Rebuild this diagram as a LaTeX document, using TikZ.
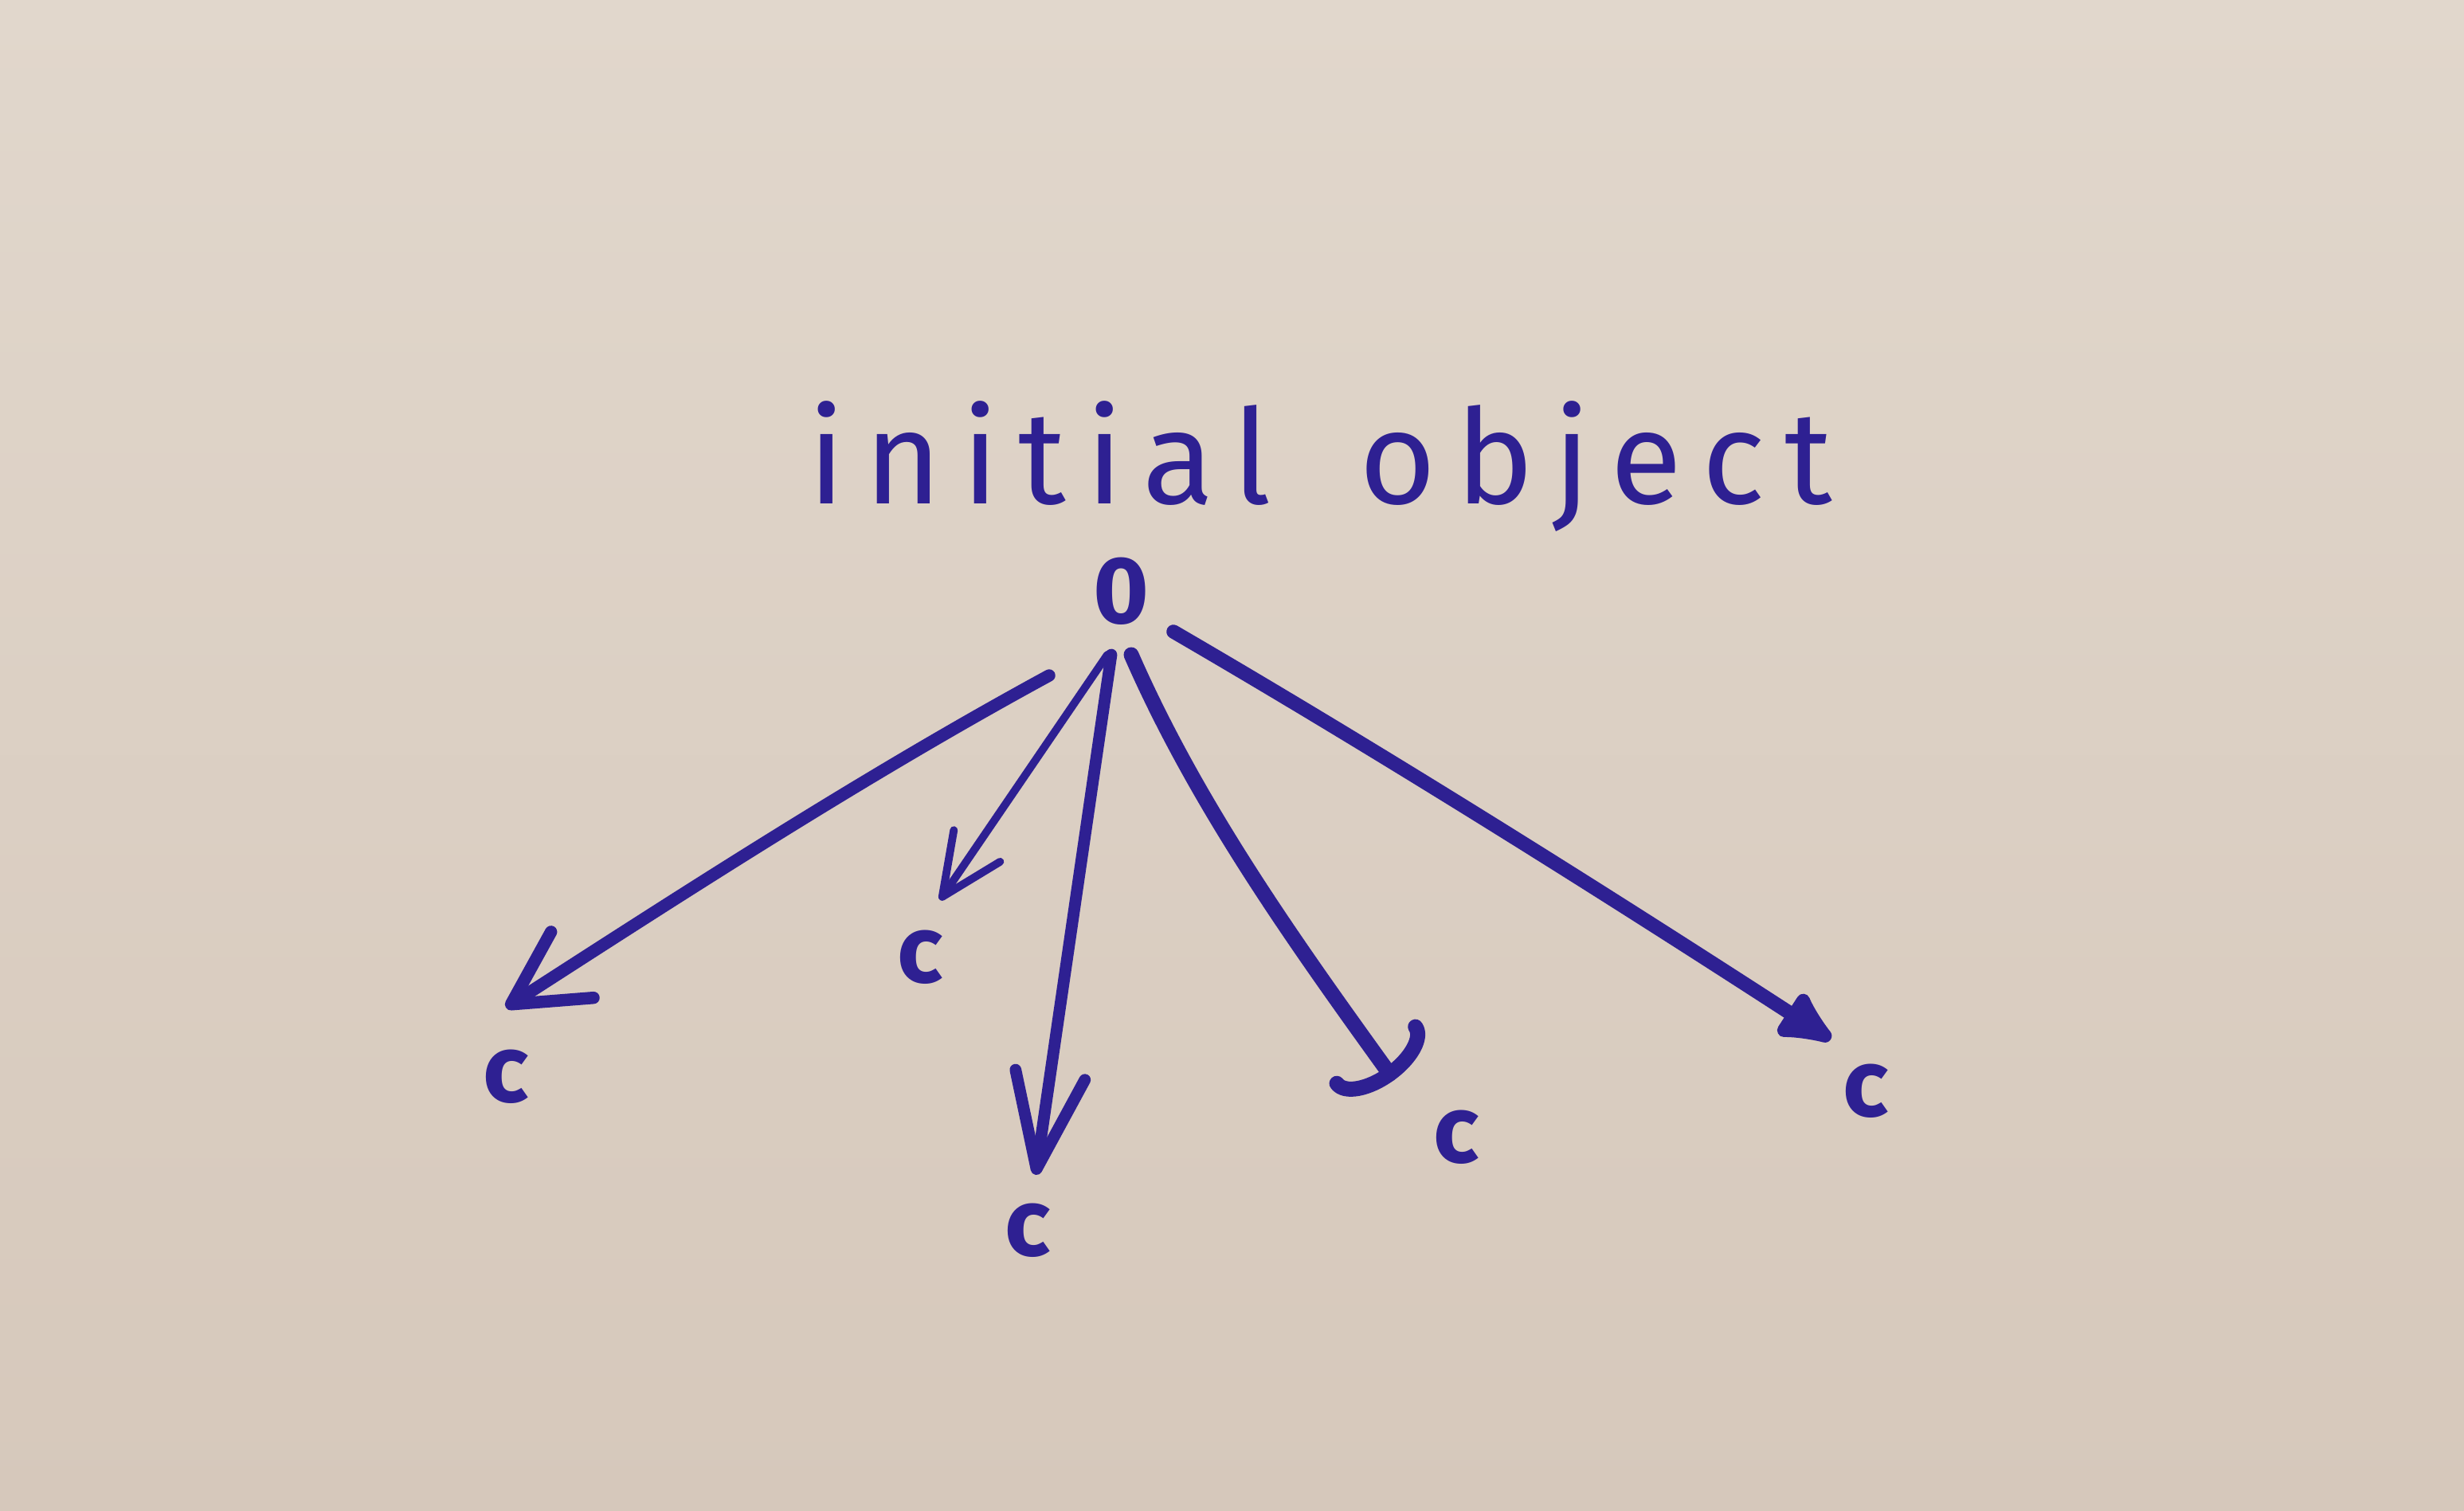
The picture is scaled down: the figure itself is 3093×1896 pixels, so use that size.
\documentclass[tikz,border=0pt]{standalone}
\usepackage{fontspec}
\setmainfont{Fira Sans}
\newfontfamily\titlefont[LetterSpace=15]{Fira Sans}
\usetikzlibrary{arrows.meta,calc}
\definecolor{paperA}{RGB}{225,215,204}
\definecolor{paperB}{RGB}{214,200,187}
\definecolor{ink}{RGB}{46,32,146}
\tikzset{
 lbl/.style={text=ink,font=\fontsize{34}{40}\selectfont\bfseries,inner sep=0pt},
 titletext/.style={text=ink,font=\titlefont\fontsize{47}{52}\selectfont,inner sep=0pt},
 pen/.style={draw=ink,line cap=round,line join=round},
}
\begin{document}
\begin{tikzpicture}[x=0.01cm,y=-0.01cm]
\shade[top color=paperA,bottom color=paperB] (0,0) rectangle (3093,1896);
\useasboundingbox (0,0) rectangle (3093,1896);
\node[titletext,anchor=base] (title) at (1657,632) {initial\hspace{0.25em} object};
\node[lbl] (o) at (1407,742) {0};
\node[lbl] (c1) at (635,1352) {c};
\node[lbl] (c2) at (1155,1202) {c};
\node[lbl] (c3) at (1290,1545) {c};
\node[lbl] (c4) at (1828,1428) {c};
\node[lbl] (c5) at (2342,1370) {c};
\draw[pen,line width=4.4pt,-{Straight Barb[length=26pt,width=28pt,round]}]
  ($(o)+(-90,106)$) .. controls +(-230,125) and +(225,-145) .. ($(c1)+(0,-87)$);
\draw[pen,line width=2.8pt,-{Straight Barb[length=22pt,width=20pt,round]}]
  ($(o)+(-17,80)$) -- ($(c2)+(25,-72)$);
\draw[pen,line width=4.2pt,-{Straight Barb[length=34pt,width=25pt,round]}]
  ($(o)+(-12,80)$) -- ($(c3)+(10,-70)$);
\draw[pen,line width=5.4pt,-{Arc Barb[length=11pt,width=40pt,round]}]
  ($(o)+(13,80)$) .. controls +(83,190) and +(-124,-172) .. ($(c4)+(-78,-72)$);
\draw[pen,line width=5pt,-{Latex[length=24pt,width=22pt,round]}]
  ($(o)+(66,51)$) .. controls +(275,160) and +(-270,-175) .. ($(c5)+(-44,-65)$);
\end{tikzpicture}
\end{document}
